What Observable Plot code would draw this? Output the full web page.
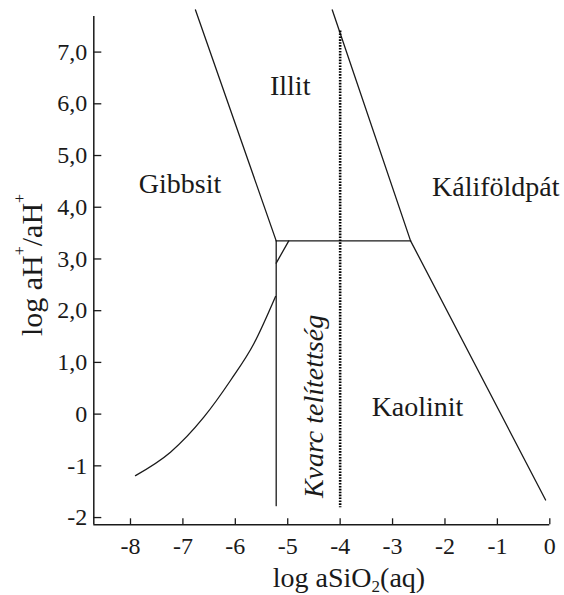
<!DOCTYPE html>
<html>
<head>
<meta charset="utf-8">
<script src="https://cdn.jsdelivr.net/npm/d3@7"></script>
<script src="https://cdn.jsdelivr.net/npm/@observablehq/plot@0.6"></script>
<style>
  html, body { margin: 0; padding: 0; background: #fff; }
  #chart { width: 564px; height: 595px; }
  #chart svg text { font-family: "Liberation Serif", "Times New Roman", serif; }
</style>
</head>
<body>
<div id="chart"></div>
<script>
// ---- data ----
const xDomain = [-8.7, 0];
const yDomain = [-2.14, 7.69];

const xTicks = [-8, -7, -6, -5, -4, -3, -2, -1, 0];
const xTickLabels = ["-8", "-7", "-6", "-5", "-4", "-3", "-2", "-1", "0"];
const yTicks = [-2, -1, 0, 1, 2, 3, 4, 5, 6, 7];
const yTickLabels = ["-2", "-1", "0", "1,0", "2,0", "3,0", "4,0", "5,0", "6,0", "7,0"];

// phase boundaries
const gibbsitIllitX = [-6.76, -5.22];
const gibbsitIllitY = [7.815, 3.35];
const illitKaliX = [-4.15, -2.656];
const illitKaliY = [7.815, 3.35];
const kaolinitKaliX = [-2.656, -0.08];
const kaolinitKaliY = [3.35, -1.66];
const illitKaolinitX = [-5.22, -2.656];
const illitKaolinitY = [3.35, 3.35];
const gibbsitKaolinitX = [-5.22, -5.22];
const gibbsitKaolinitY = [3.35, -1.77];
const shortSegX = [-4.98, -5.22];
const shortSegY = [3.35, 2.92];
const curveX = [-7.904, -7.237, -6.601, -6.092, -5.647, -5.233];
const curveY = [-1.188, -0.736, -0.059, 0.650, 1.360, 2.274];
// quartz saturation (dotted)
const quartzX = [-4, -4];
const quartzY = [7.415, -1.80];

// field labels
const fieldNames = ["Illit", "Gibbsit", "Káliföldpát", "Kaolinit"];
const fieldX = [-4.953, -7.055, -1.03, -2.524];
const fieldY = [6.344, 4.44, 4.40, 0.134];
const quartzLabel = "Kvarc telítettség";
const quartzLabelX = -4.50;
const quartzLabelY = 0.148;

// ---- build table ----
function seg(name, xs, ys) { return xs.map((x, i) => ({name, x, y: ys[i]})); }
const boundaries = [
  ...seg("gi", gibbsitIllitX, gibbsitIllitY),
  ...seg("ik", illitKaliX, illitKaliY),
  ...seg("kk", kaolinitKaliX, kaolinitKaliY),
  ...seg("ika", illitKaolinitX, illitKaolinitY),
  ...seg("gk", gibbsitKaolinitX, gibbsitKaolinitY),
  ...seg("s", shortSegX, shortSegY)
];
const curve = seg("c", curveX, curveY);
const quartz = seg("q", quartzX, quartzY);
const fields = fieldNames.map((n, i) => ({n, x: fieldX[i], y: fieldY[i]}));

const font = "Liberation Serif";
const ink = "#1a1a1a";

const chart = Plot.plot({
  width: 564,
  height: 595,
  marginLeft: 93.3,
  marginRight: 14.7,
  marginTop: 15.9,
  marginBottom: 70.7,
  x: {domain: xDomain},
  y: {domain: yDomain},
  style: {fontFamily: font, fontSize: "24px", background: "white", color: ink, overflow: "visible"},
  marks: [
    Plot.ruleX([xDomain[0]], {stroke: ink, strokeWidth: 1.5}),
    Plot.ruleY([yDomain[0]], {stroke: ink, strokeWidth: 1.5}),
    Plot.axisY(yTicks, {tickSize: -8, tickFormat: () => "", label: null, strokeWidth: 1.3}),
    Plot.axisY(yTicks, {tickSize: 0, tickPadding: 6.6, fontSize: 24, fontFamily: font, label: null,
      tickFormat: (d) => yTickLabels[yTicks.indexOf(d)]}),
    Plot.axisX(xTicks, {tickSize: -6, tickFormat: () => "", label: null, strokeWidth: 1.3}),
    Plot.axisX(xTicks, {tickSize: 0, tickPadding: 12, fontSize: 24, fontFamily: font, label: null,
      tickFormat: (d) => xTickLabels[xTicks.indexOf(d)]}),
    Plot.line(boundaries, {x: "x", y: "y", z: "name", stroke: ink, strokeWidth: 1.3}),
    Plot.line(curve, {x: "x", y: "y", curve: "monotone-x", stroke: ink, strokeWidth: 1.3}),
    Plot.line(quartz, {x: "x", y: "y", stroke: "#000", strokeWidth: 2.6, strokeDasharray: "1.6,1.3", strokeLinecap: "butt"}),
    Plot.text(fields, {x: "x", y: "y", text: "n", fontSize: 28, fontFamily: font, fill: ink, lineAnchor: "middle"}),
    Plot.text([quartzLabel], {x: () => quartzLabelX, y: () => quartzLabelY, text: (d) => d, rotate: -90,
      fontSize: 28, fontFamily: font, fontStyle: "italic", fill: ink, lineAnchor: "middle"})
  ]
});

document.getElementById("chart").appendChild(chart);

// axis titles with sub/superscripts
const svg = d3.select(chart);
const xt = svg.append("text")
  .attr("x", 349).attr("y", 586.7)
  .attr("text-anchor", "middle")
  .attr("fill", ink)
  .style("font-family", font).style("font-size", "28px");
xt.append("tspan").text("log aSiO");
xt.append("tspan").text("2").style("font-size", "17px").attr("dy", 5);
xt.append("tspan").text("(aq)").attr("dy", -5);

const yt = svg.append("text")
  .attr("transform", "translate(42,265) rotate(-90)")
  .attr("text-anchor", "middle")
  .attr("fill", ink)
  .style("font-family", font).style("font-size", "30px");
yt.append("tspan").text("log aH");
yt.append("tspan").text("+").style("font-size", "16px").attr("dy", -17);
yt.append("tspan").text("/aH").attr("dy", 17);
yt.append("tspan").text("+").style("font-size", "16px").attr("dy", -17);
</script>
</body>
</html>
